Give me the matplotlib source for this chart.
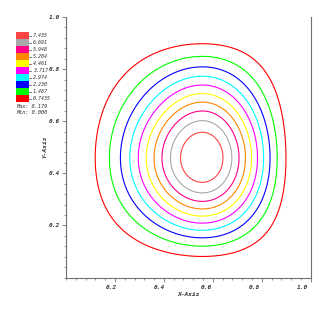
import numpy as np
import matplotlib
matplotlib.use("Agg")
import matplotlib.pyplot as plt
from matplotlib.patches import Rectangle
from matplotlib.transforms import ScaledTranslation

# ---------------- data ----------------
max_val = 8.179
min_val = 0.000
levels = [0.7435, 1.487, 2.230, 2.974, 3.717, 4.461, 5.204, 5.948, 6.691, 7.435]
level_labels = ["0.7435", "1.487", "2.230", "2.974", "3.717",
                "4.461", "5.204", "5.948", "6.691", "7.435"]
level_colors = ["#ff0000", "#00ff00", "#0000ff", "#00ffff", "#ff00ff",
                "#ffff00", "#ff8700", "#ff0087", "#a8a8a8", "#ff4444"]

# where each contour crosses the horizontal / vertical line through the peak
x_left = [0.123, 0.179, 0.221, 0.259, 0.294, 0.328, 0.359, 0.393, 0.427, 0.471]
x_right = [0.898, 0.864, 0.833, 0.806, 0.786, 0.758, 0.734, 0.706, 0.679, 0.638]
y_bottom = [0.081, 0.120, 0.153, 0.181, 0.209, 0.232, 0.263, 0.296, 0.326, 0.364]
y_top = [0.895, 0.847, 0.809, 0.773, 0.741, 0.707, 0.675, 0.638, 0.600, 0.557]

x_ticks = [0.2, 0.4, 0.6, 0.8, 1.0]
y_ticks = [0.2, 0.4, 0.6, 0.8, 1.0]


# ---------------- build field from the crossings ----------------
def profile(coord, lo_pts, hi_pts):
    frac = np.array(levels) / max_val
    a = np.arcsin(frac) / np.pi
    xs = np.concatenate([[0.0], lo_pts, hi_pts, [1.0]])
    ws = np.concatenate([[0.0], a, 1 - a, [1.0]])
    wts = np.concatenate([[0.3], np.ones(len(a) * 2), [0.3]])
    c = np.polyfit(xs, ws, 5, w=wts)
    w = np.clip(np.polyval(c, coord), 0, 1)
    return np.sin(np.pi * w)


xg = np.linspace(0, 1, 700)
yg = np.linspace(0, 1, 700)
gx = profile(xg, x_left, x_right)
hy = profile(yg, y_bottom, y_top)
G, Hh = np.meshgrid(gx, hy)
k_round = 0.35
Z = max_val * G * Hh * (1 - k_round * (1 - G) * (1 - Hh))

# ---------------- figure ----------------
W = H = 327
fig = plt.figure(figsize=(W / 100, H / 100), dpi=100)
fig.patch.set_facecolor("white")


def fx(v):
    return v / W


def fy(v):
    return 1 - v / H


ax_l, ax_r, ax_t, ax_b = 66, 310.7, 17, 277.5
ax = fig.add_axes([fx(ax_l), fy(ax_b), (ax_r - ax_l) / W, (ax_b - ax_t) / H])
ax.contour(xg, yg, Z, levels=levels, colors=level_colors, linewidths=0.8)
ax.set_xlim(0, 1)
ax.set_ylim(0, 1)

axis_col = "#707070"
txt_col = "#303030"
for s in ["left", "bottom", "right"]:
    ax.spines[s].set_color(axis_col)
    ax.spines[s].set_linewidth(0.8)
ax.spines["top"].set_visible(False)

tfont = dict(family="DejaVu Sans Mono", style="italic", weight="bold", size=4.4)
ax.set_xticks(x_ticks)
ax.set_yticks(y_ticks)
ax.set_xticks(np.arange(0, 1.0001, 0.04), minor=True)
ax.set_yticks(np.arange(0, 1.0001, 0.04), minor=True)
ax.set_xticklabels([f"{v:.1f}" for v in x_ticks], fontdict=tfont, color=txt_col)
ax.set_yticklabels([f"{v:.1f}" for v in y_ticks], fontdict=tfont, color=txt_col)
ax.tick_params(which="major", length=3, width=0.6, color=axis_col, pad=2.5)
ax.tick_params(axis="y", which="major", pad=1.2)
ax.tick_params(which="minor", length=1.5, width=0.5, color=axis_col)
for lab, v in zip(ax.get_xticklabels(), x_ticks):
    lab.set_transform(lab.get_transform() +
                      ScaledTranslation(-(4 + 4 * (v - 0.2) / 0.8) / 100, 0,
                                        fig.dpi_scale_trans))
ax.set_xlabel("X-Axis", fontdict=tfont, color=txt_col, labelpad=1.5)
ax.set_ylabel("Y-Axis", fontdict=tfont, color=txt_col, labelpad=1)

# ---------------- legend ----------------
bx0, bx1 = 16, 29
by0, by1 = 32.3, 102
bh = (by1 - by0) / len(levels)
for i, (lab, col) in enumerate(zip(level_labels[::-1], level_colors[::-1])):
    top = by0 + i * bh
    fig.patches.append(Rectangle((fx(bx0), fy(top + bh)), (bx1 - bx0) / W, bh / H,
                                 transform=fig.transFigure, facecolor=col,
                                 edgecolor="none"))
    fig.lines.append(plt.Line2D([fx(bx1), fx(bx1 + 2)], [fy(top + bh / 2)] * 2,
                                transform=fig.transFigure, color="#404040", lw=0.5))
    fig.text(fx(33), fy(top + bh / 2), lab, ha="left", va="center",
             color=txt_col, family="DejaVu Sans Mono", style="italic",
             fontsize=3.6)

fig.text(fx(16), fy(107), f"Max: {max_val:.3f}", ha="left", va="center",
         color=txt_col, family="DejaVu Sans Mono", style="italic", fontsize=3.8)
fig.text(fx(16), fy(112.5), f"Min: {min_val:.3f}", ha="left", va="center",
         color=txt_col, family="DejaVu Sans Mono", style="italic", fontsize=3.8)

fig.savefig("out.png", dpi=100, facecolor="white")
